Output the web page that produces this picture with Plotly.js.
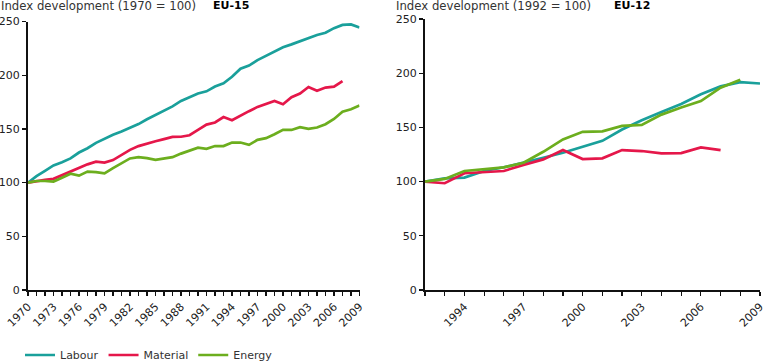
<!DOCTYPE html>
<html>
<head>
<meta charset="utf-8">
<script src="https://cdn.plot.ly/plotly-3.0.1.min.js"></script>
<style>
html,body{margin:0;padding:0;background:#fff;}
#chart{width:768px;height:361px;}
</style>
</head>
<body>
<div id="chart"></div>
<script>
// ---- Data ----
var years15 = [1970,1971,1972,1973,1974,1975,1976,1977,1978,1979,1980,1981,1982,1983,1984,1985,1986,1987,1988,1989,1990,1991,1992,1993,1994,1995,1996,1997,1998,1999,2000,2001,2002,2003,2004,2005,2006,2007,2008,2009];
var labour15 = [100,106,111,116,119,122.5,128,132,137,141,144.5,147.5,151,154.5,159,163,166.5,171,176,179.5,183,185,189.5,192.5,198.5,206,209,214,218,221.5,226,228.7,231.8,235,237.5,239.5,243.8,246.8,247.3,244.5];
var material15 = [100,101.5,102.5,103.5,107,110.5,114,117,119.5,118.7,121,126,130.5,134,136.5,138.5,140.5,142.5,142.7,144.1,149,154,156,161,158,162.5,166.5,170.5,173.5,176,173,179.5,183,189,185.5,188.5,189.3,194.5];
var energy15 = [100,101.5,101.5,101,104.5,108.3,106.5,110.2,109.8,108.6,113.5,118,122.5,123.7,122.8,121.2,122.2,123.7,127,129.8,132.5,131.5,134,134,137.3,137.3,135.2,139.8,141.4,145,149.1,149,151.6,150,151.3,154.4,159.3,166.1,168.3,171.7];

var years12 = [1992,1993,1994,1995,1996,1997,1998,1999,2000,2001,2002,2003,2004,2005,2006,2007,2008,2009];
var labour12 = [100,103,103.7,109.8,113.2,117.4,122,126.6,132,137.6,148,156.6,164.2,171.6,180.5,187.8,191.7,190.5];
var material12 = [100,98.5,107.7,108.6,109.8,115.3,120.5,129.1,120.8,121.5,129.1,128.2,126,126.3,131.6,129.1];
var energy12 = [100,102.5,109.8,111.4,113.2,117.4,127.5,138.9,145.9,146.3,151.4,152.3,161.8,168.3,174.3,186.6,194];

var seriesNames = ['Labour','Material','Energy'];
var colors = ['#1aa09b','#e5174a','#6cae1e'];

var panelTitles = ['Index development (1970 = 100)','Index development (1992 = 100)'];
var panelLabels = ['EU-15','EU-12'];

// ---- Traces ----
function line(x, y, i, xa, ya, show) {
  return {
    x: x.slice(0, y.length), y: y, type: 'scatter', mode: 'lines',
    name: seriesNames[i], showlegend: show, legendgroup: seriesNames[i],
    line: {color: colors[i], width: 2.7},
    xaxis: xa, yaxis: ya, hoverinfo: 'x+y+name'
  };
}
var data = [
  line(years15, labour15, 0, 'x', 'y', true),
  line(years15, material15, 1, 'x', 'y', true),
  line(years15, energy15, 2, 'x', 'y', true),
  line(years12, labour12, 0, 'x2', 'y2', false),
  line(years12, material12, 1, 'x2', 'y2', false),
  line(years12, energy12, 2, 'x2', 'y2', false)
];

var FONT = 'DejaVu Sans, Verdana, sans-serif';
var tickFont = {family: FONT, size: 11, color: '#222'};

function xax(domain, r, t0, anchor) {
  return {
    domain: domain, range: r, anchor: anchor,
    showgrid: false, zeroline: false, showline: true, linecolor: '#111', linewidth: 2,
    ticks: 'outside', ticklen: 4, tickwidth: 1.2, tickcolor: '#111',
    tick0: t0, dtick: 3, tickangle: -45, tickfont: tickFont,
    minor: {dtick: 1, ticks: 'outside', ticklen: 4, tickwidth: 1.2, tickcolor: '#111', showgrid: false},
    fixedrange: true
  };
}
function yax(domain, anchor) {
  return {
    domain: domain, range: [0, 250], anchor: anchor,
    showgrid: false, zeroline: false, showline: true, linecolor: '#111', linewidth: 2,
    ticks: 'outside', ticklen: 4, tickwidth: 1.2, tickcolor: '#111',
    tick0: 0, dtick: 50, tickfont: tickFont, fixedrange: true
  };
}

var PW = 732, PH = 271;
function px2x(px) { return (px - 28) / PW; }
function px2y(py) { return (290 - py) / PH; }

var titleFont = {family: FONT, size: 11.7, color: '#333'};
var labelFont = {family: FONT, size: 11, color: '#000'};

var layout = {
  width: 768, height: 361,
  margin: {l: 28, r: 8, t: 19, b: 71, autoexpand: false},
  paper_bgcolor: '#fff', plot_bgcolor: '#fff',
  font: {family: FONT, size: 11, color: '#333'},
  xaxis: xax([0, px2x(359.5)], [1970, 2009], 1970, 'y'),
  yaxis: yax([0, px2y(21.5)], 'x'),
  xaxis2: xax([px2x(425), 1], [1992, 2009], 1994, 'y2'),
  yaxis2: yax([0, 1], 'x2'),
  showlegend: true,
  legend: {
    orientation: 'h', x: px2x(20), y: px2y(355), xanchor: 'left', yanchor: 'middle',
    font: {family: FONT, size: 11, color: '#333'}, itemwidth: 30,
    bgcolor: 'rgba(0,0,0,0)', traceorder: 'normal'
  },
  annotations: [
    {xref: 'paper', yref: 'paper', x: px2x(-1), y: px2y(6), xanchor: 'left', yanchor: 'middle',
     text: panelTitles[0], showarrow: false, font: titleFont},
    {xref: 'paper', yref: 'paper', x: px2x(211), y: px2y(6), xanchor: 'left', yanchor: 'middle',
     text: '<b>' + panelLabels[0] + '</b>', showarrow: false, font: labelFont},
    {xref: 'paper', yref: 'paper', x: px2x(394), y: px2y(6), xanchor: 'left', yanchor: 'middle',
     text: panelTitles[1], showarrow: false, font: titleFont},
    {xref: 'paper', yref: 'paper', x: px2x(612), y: px2y(6), xanchor: 'left', yanchor: 'middle',
     text: '<b>' + panelLabels[1] + '</b>', showarrow: false, font: labelFont}
  ]
};

Plotly.newPlot('chart', data, layout, {displayModeBar: false, staticPlot: true});
</script>
</body>
</html>
